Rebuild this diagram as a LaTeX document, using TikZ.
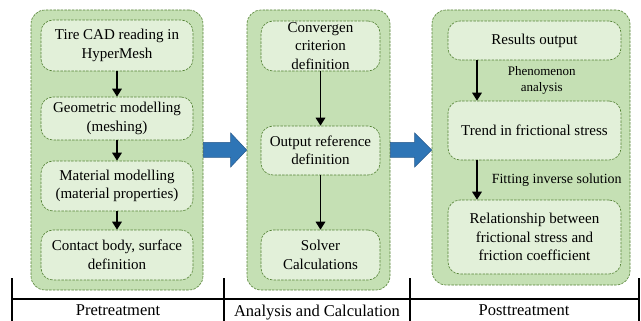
\documentclass[tikz,border=0pt]{standalone}
\usepackage{fontspec}
\setmainfont{Liberation Serif}
\usetikzlibrary{arrows.meta, positioning, calc}

\definecolor{panelgreen}{RGB}{197,224,180}
\definecolor{boxgreen}{RGB}{226,240,217}
\definecolor{edgegreen}{RGB}{84,130,53}
\definecolor{flowblue}{RGB}{46,117,182}
\definecolor{flowedge}{RGB}{40,90,140}

\begin{document}
\begin{tikzpicture}[
  x=1pt, y=-1pt,
  panel/.style={rectangle, rounded corners=14pt, draw=edgegreen, dash pattern=on 2.5pt off 1.2pt, line width=0.6pt, fill=panelgreen},
  box/.style={rectangle, rounded corners=12pt, draw=edgegreen, dash pattern=on 2.5pt off 1.2pt, line width=0.6pt, fill=boxgreen, align=center, inner xsep=2pt, inner ysep=0pt, font=\fontsize{15}{18.5}\selectfont},
  note/.style={align=center, inner sep=0pt},
  arrow/.style={-{Triangle[length=8pt, width=9.5pt]}, line width=1.6pt},
  bigarrow/.style={fill=flowblue, draw=flowedge, line width=0.5pt},
  stage/.style={anchor=base, inner sep=0pt, font=\fontsize{16.5}{18}\selectfont}
]
\useasboundingbox (0,0) rectangle (641,321);

% panels
\node (pre) [panel, minimum width=172pt, minimum height=280pt] at (117,150) {};
\node (ana) [panel, minimum width=143pt, minimum height=280pt] at (318.5,150) {};
\node (post) [panel, minimum width=198pt, minimum height=275pt] at (531,147.5) {};

% pretreatment
\node (cad) [box, minimum width=152pt, minimum height=51pt] at (117,45.5) {Tire CAD reading in\\HyperMesh};
\node (geo) [box, minimum width=152pt, minimum height=43pt] at (117,118.5) {Geometric modelling\\(meshing)};
\node (mat) [box, minimum width=152pt, minimum height=50pt] at (117,186) {Material modelling\\(material properties)};
\node (con) [box, minimum width=152pt, minimum height=50pt] at (117,255) {Contact body, surface\\definition};

% analysis
\node (conv) [box, minimum width=119pt, minimum height=50pt] at (320.5,46) {Convergen\\criterion\\definition};
\node (outref) [box, minimum width=119pt, minimum height=49pt] at (320.5,150.5) {Output reference\\definition};
\node (solv) [box, minimum width=119pt, minimum height=50pt] at (320.5,255) {Solver\\Calculations};

% posttreatment
\node (res) [box, minimum width=173pt, minimum height=39pt] at (534.5,40.5) {Results output};
\node (trend) [box, minimum width=173pt, minimum height=59pt] at (534.5,130.5) {Trend in frictional stress};
\node (rel) [box, minimum width=173pt, minimum height=74pt] at (534.5,237) {Relationship between\\frictional stress and\\friction coefficient};

\draw [arrow] (cad) -- (geo);
\draw [arrow] (geo) -- (mat);
\draw [arrow] (mat) -- (con);
\draw [arrow] (conv) -- (outref);
\draw [arrow] (outref) -- (solv);
\draw [arrow] ([xshift=-57.5pt]res.south) -- node (phen) [note, right=30pt, font=\fontsize{13}{15.5}\selectfont] {Phenomenon\\analysis} ([xshift=-57.5pt]trend.north);
\draw [arrow] ([xshift=-57.5pt]trend.south) -- node (fit) [note, right=14pt, font=\fontsize{14}{16}\selectfont] {Fitting inverse solution} ([xshift=-57.5pt]rel.north);

% block arrows
\draw [bigarrow] ($(pre.east)+(0,-7.5)$) -- ($(ana.west)+(-16,-7.5)$) -- ($(ana.west)+(-16,-17)$) -- (ana.west)
  -- ($(ana.west)+(-16,17)$) -- ($(ana.west)+(-16,7.5)$) -- ($(pre.east)+(0,7.5)$) -- cycle;
\draw [bigarrow] ($(ana.east)+(0,-7.5)$) -- ($(ana.east -| post.west)+(-17,-7.5)$) -- ($(ana.east -| post.west)+(-17,-17)$) -- (ana.east -| post.west)
  -- ($(ana.east -| post.west)+(-17,17)$) -- ($(ana.east -| post.west)+(-17,7.5)$) -- ($(ana.east)+(0,7.5)$) -- cycle;

% time line
\draw [line width=1.4pt] (12,299) -- (639,299);
\foreach \t in {12,224,410,639}
  \draw [line width=1.4pt] (\t,278) -- (\t,321);
\node (pret) [stage] at (118,315) {Pretreatment};
\node (anat) [stage] at (317,316) {Analysis and Calculation};
\node (postt) [stage] at (524,315) {Posttreatment};

\end{tikzpicture}
\end{document}
